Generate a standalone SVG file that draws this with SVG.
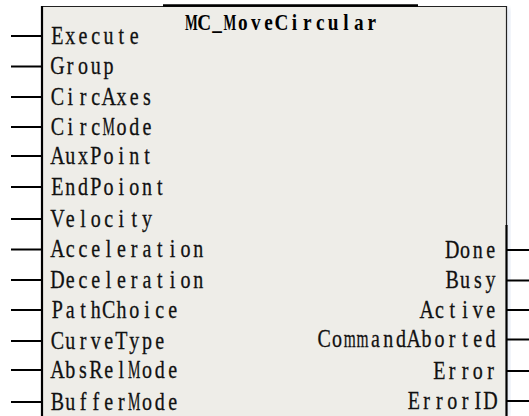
<svg xmlns="http://www.w3.org/2000/svg" width="529" height="416" viewBox="0 0 529 416">
  <style>
    .pin { stroke: #000; stroke-width: 2; }
    .lbl { font-family: "Liberation Serif", "DejaVu Serif", serif; font-size: 25px; fill: #111; stroke: #111; stroke-width: 0.3; text-anchor: middle; }
    .title { font-family: "Liberation Serif", "DejaVu Serif", serif; font-size: 24px; font-weight: bold; fill: #000; text-anchor: middle; }
  </style>
  <defs>
    <filter id="glow" x="-5%" y="-5%" width="110%" height="110%">
      <feGaussianBlur stdDeviation="2"/>
    </filter>
  </defs>
  <rect width="529" height="416" fill="#ffffff"/>

  <!-- function block body -->
  <g id="block">
    <rect x="506" y="8" width="4" height="408" fill="#dfe6f3" filter="url(#glow)"/>
    <rect x="42" y="6" width="464" height="412" fill="#eeede8"/>
    <line x1="41" y1="6.5" x2="506.5" y2="6.5" stroke="#222" stroke-width="1"/>
    <line x1="163" y1="5.5" x2="418" y2="5.5" stroke="#000" stroke-width="2.5"/>
    <line x1="42" y1="6" x2="42" y2="416" stroke="#000" stroke-width="2.2"/>
    <line x1="506.5" y1="6" x2="506.5" y2="226" stroke="#222" stroke-width="1.2"/>
    <line x1="506.5" y1="225" x2="506.5" y2="416" stroke="#000" stroke-width="2.2"/>
  </g>

  <!-- input and output pins -->
  <g id="connectors">
    <line class="pin" x1="11" y1="36" x2="41" y2="36"/>
    <line class="pin" x1="11" y1="66.5" x2="41" y2="66.5"/>
    <line class="pin" x1="11" y1="97" x2="41" y2="97"/>
    <line class="pin" x1="11" y1="127" x2="41" y2="127"/>
    <line class="pin" x1="11" y1="156" x2="41" y2="156"/>
    <line class="pin" x1="11" y1="187" x2="41" y2="187"/>
    <line class="pin" x1="11" y1="219" x2="41" y2="219"/>
    <line class="pin" x1="11" y1="249.5" x2="41" y2="249.5"/>
    <line class="pin" x1="11" y1="280" x2="41" y2="280"/>
    <line class="pin" x1="11" y1="310" x2="41" y2="310"/>
    <line class="pin" x1="11" y1="341" x2="41" y2="341"/>
    <line class="pin" x1="11" y1="370" x2="41" y2="370"/>
    <line class="pin" x1="11" y1="402" x2="41" y2="402"/>
    <line class="pin" x1="507" y1="250" x2="529" y2="250"/>
    <line class="pin" x1="507" y1="280.5" x2="529" y2="280.5"/>
    <line class="pin" x1="507" y1="310" x2="529" y2="310"/>
    <line class="pin" x1="507" y1="339.5" x2="529" y2="339.5"/>
    <line class="pin" x1="507" y1="371" x2="529" y2="371"/>
    <line class="pin" x1="507" y1="401" x2="529" y2="401"/>
  </g>

  <!-- labels set on a fixed character grid, narrowed horizontally -->
  <g transform="scale(0.8,1)">
    <g id="title">
      <text class="title" x="239.25 255.3 271.4 287.5 303.6 319.7 335.8 351.9 368 384.1 400.2 416.3 432.4 448.5 464.6" y="30"><tspan textLength="16" lengthAdjust="spacingAndGlyphs">M</tspan>C_<tspan textLength="16" lengthAdjust="spacingAndGlyphs">M</tspan>oveCircular</text>
    </g>

    <g id="inputs">
      <text class="lbl" x="71.75 87.75 103.75 119.75 135.75 151.75 167.75 183.75 199.75 215.75 231.75 247.75" y="44">Execute</text>
      <text class="lbl" x="71.75 87.75 103.75 119.75 135.75 151.75 167.75 183.75 199.75 215.75 231.75 247.75" y="74.5">Group</text>
      <text class="lbl" x="71.75 87.75 103.75 119.75 135.75 151.75 167.75 183.75 199.75 215.75 231.75 247.75" y="105">CircAxes</text>
      <text class="lbl" x="71.75 87.75 103.75 119.75 135.75 151.75 167.75 183.75 199.75 215.75 231.75 247.75" y="135">Circ<tspan textLength="15.5" lengthAdjust="spacingAndGlyphs">M</tspan>ode</text>
      <text class="lbl" x="71.75 87.75 103.75 119.75 135.75 151.75 167.75 183.75 199.75 215.75 231.75 247.75" y="164">AuxPoint</text>
      <text class="lbl" x="71.75 87.75 103.75 119.75 135.75 151.75 167.75 183.75 199.75 215.75 231.75 247.75" y="195">EndPoiont</text>
      <text class="lbl" x="71.75 87.75 103.75 119.75 135.75 151.75 167.75 183.75 199.75 215.75 231.75 247.75" y="227">Velocity</text>
      <text class="lbl" x="71.75 87.75 103.75 119.75 135.75 151.75 167.75 183.75 199.75 215.75 231.75 247.75" y="257.5">Acceleration</text>
      <text class="lbl" x="71.75 87.75 103.75 119.75 135.75 151.75 167.75 183.75 199.75 215.75 231.75 247.75" y="288">Deceleration</text>
      <text class="lbl" x="71.75 87.75 103.75 119.75 135.75 151.75 167.75 183.75 199.75 215.75 231.75 247.75" y="318">PathChoice</text>
      <text class="lbl" x="71.75 87.75 103.75 119.75 135.75 151.75 167.75 183.75 199.75 215.75 231.75 247.75" y="349">CurveType</text>
      <text class="lbl" x="71.75 87.75 103.75 119.75 135.75 151.75 167.75 183.75 199.75 215.75 231.75 247.75" y="378">AbsRel<tspan textLength="15.5" lengthAdjust="spacingAndGlyphs">M</tspan>ode</text>
      <text class="lbl" x="71.75 87.75 103.75 119.75 135.75 151.75 167.75 183.75 199.75 215.75 231.75 247.75" y="410">Buffer<tspan textLength="15.5" lengthAdjust="spacingAndGlyphs">M</tspan>ode</text>
    </g>

    <g id="outputs">
      <text class="lbl" x="565.25 581.25 597.25 613.25" y="258">Done</text>
      <text class="lbl" x="565.25 581.25 597.25 613.25" y="288.5">Busy</text>
      <text class="lbl" x="533.25 549.25 565.25 581.25 597.25 613.25" y="318">Active</text>
      <text class="lbl" x="405.25 421.25 437.25 453.25 469.25 485.25 501.25 517.25 533.25 549.25 565.25 581.25 597.25 613.25" y="347.5">Co<tspan textLength="15" lengthAdjust="spacingAndGlyphs">m</tspan><tspan textLength="15" lengthAdjust="spacingAndGlyphs">m</tspan>andAborted</text>
      <text class="lbl" x="549.25 565.25 581.25 597.25 613.25" y="379">Error</text>
      <text class="lbl" x="517.25 533.25 549.25 565.25 581.25 597.25 613.25" y="409">ErrorID</text>
    </g>
  </g>
</svg>
